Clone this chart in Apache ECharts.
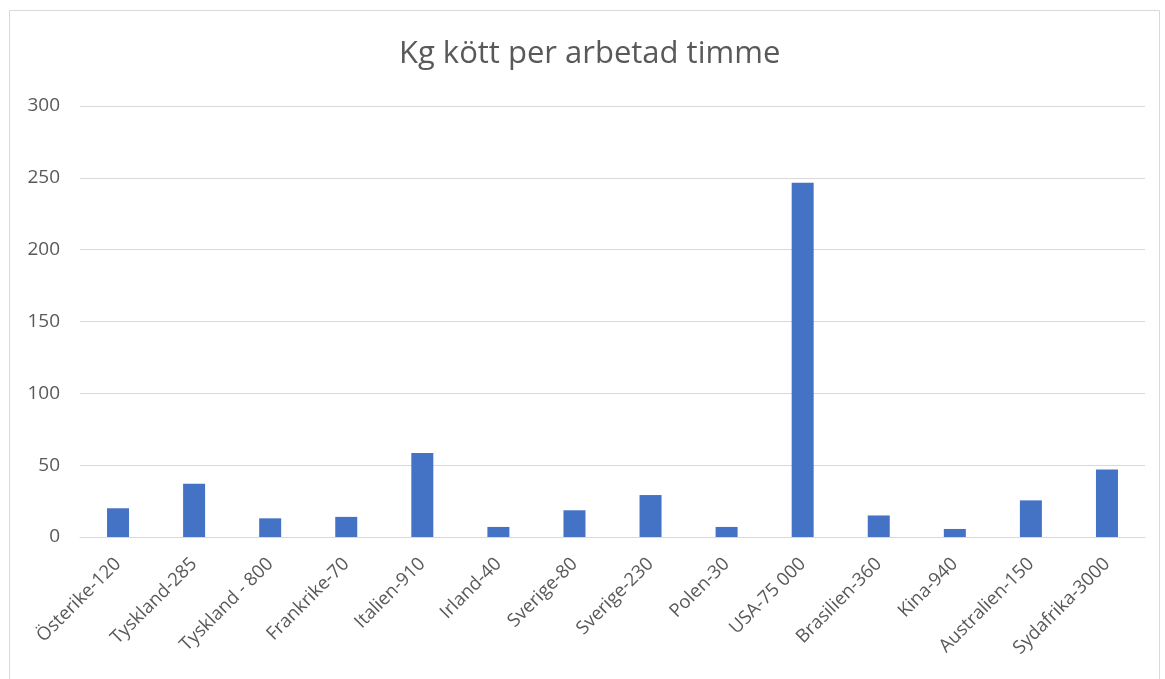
<!DOCTYPE html>
<html>
<head>
<meta charset="utf-8">
<script src="https://cdn.jsdelivr.net/npm/echarts@6/dist/echarts.min.js"></script>
<style>html,body{margin:0;padding:0;background:#fff;}#c{width:1165px;height:679px;}</style>
</head>
<body>
<div id="c"></div>
<script>
const titleText = 'Kg kött per arbetad timme';
const categories = ['Österike-120','Tyskland-285','Tyskland - 800','Frankrike-70','Italien-910','Irland-40','Sverige-80','Sverige-230','Polen-30','USA-75 000','Brasilien-360','Kina-940','Australien-150','Sydafrika-3000'];
const values = [20, 37, 13, 14, 58.5, 7, 18.6, 29.2, 7, 246.5, 15, 5.6, 25.5, 47];
const yTicks = {min: 0, max: 300, interval: 50};

const chart = echarts.init(document.getElementById('c'), null, {renderer: 'canvas'});
chart.setOption({
  animation: false,
  backgroundColor: '#fff',
  textStyle: {fontFamily: 'Open Sans'},
  title: {
    text: titleText, left: 394, top: 34,
    textStyle: {fontFamily: 'Open Sans', fontSize: 31, fontWeight: 'normal', color: '#595959'}
  },
  graphic: [{
    type: 'rect', left: 7, top: 8, shape: {width: 1150, height: 669},
    style: {fill: 'none', stroke: '#d9d9d9', lineWidth: 1}, silent: true
  }],
  grid: {left: 80, right: 20, top: 106, bottom: 142, containLabel: false},
  xAxis: {
    type: 'category', data: categories,
    axisLine: {lineStyle: {color: '#d9d9d9', width: 1}},
    axisTick: {show: false},
    axisLabel: {rotate: 45, interval: 0, color: '#595959', fontSize: 18.5, fontFamily: 'Open Sans', margin: 24}
  },
  yAxis: {
    type: 'value', min: yTicks.min, max: yTicks.max, interval: yTicks.interval,
    axisLine: {show: false}, axisTick: {show: false},
    splitLine: {lineStyle: {color: '#d9d9d9', width: 1}},
    axisLabel: {color: '#595959', fontSize: 19, fontFamily: 'Open Sans', margin: 20}
  },
  series: [{
    type: 'bar', data: values, barWidth: 22,
    itemStyle: {color: '#4472C4'}
  }]
});
</script>
</body>
</html>
